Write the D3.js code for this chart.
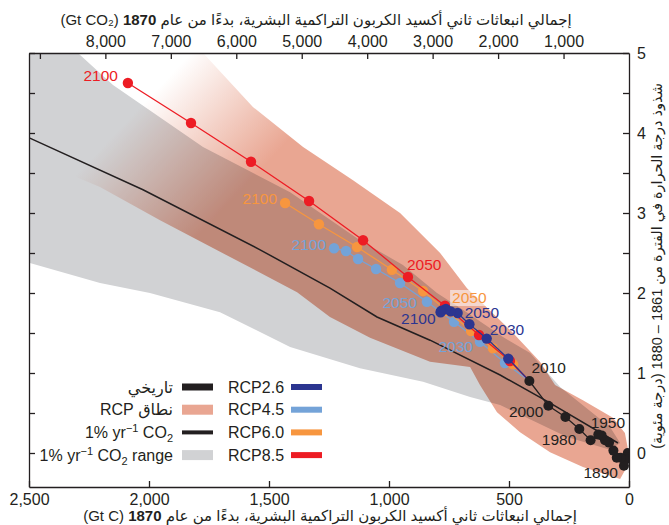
<!DOCTYPE html>
<html>
<head>
<meta charset="utf-8">
<script src="https://cdn.jsdelivr.net/npm/d3@7"></script>
<style>
body { margin: 0; background: #fff; }
svg text { font-family: "Liberation Sans", Arial, "DejaVu Sans", sans-serif; fill: #231f20; }
</style>
</head>
<body>
<svg id="chart" width="669" height="525"></svg>
<script>
// historical decades
var histYears = [1870, 1880, 1890, 1900, 1910, 1920, 1930, 1940, 1950, 1960, 1970, 1980, 1990, 2000, 2010];
var histCum = [5, 17, 21, 35, 51, 65, 83, 100, 114, 128, 160, 207, 265, 336, 415];
var histTemp = [0.0, -0.09, -0.16, -0.06, -0.06, 0.03, 0.13, 0.16, 0.22, 0.23, 0.16, 0.30, 0.45, 0.59, 0.90];

// RCP decades 2020-2100
var rcpYears = [2020, 2030, 2040, 2050, 2060, 2070, 2080, 2090, 2100];
var rcp26Cum = [503, 593, 665, 714, 743, 763, 781, 783, 785];
var rcp26Temp = [1.18, 1.43, 1.61, 1.75, 1.77, 1.80, 1.78, 1.77, 1.76];
var rcp45Cum = [517, 621, 729, 842, 954, 1054, 1129, 1179, 1229];
var rcp45Temp = [1.125, 1.39, 1.64, 1.89, 2.125, 2.30, 2.425, 2.525, 2.56];
var rcp60Cum = [483, 567, 658, 758, 858, 988, 1133, 1292, 1433];
var rcp60Temp = [1.11, 1.31, 1.525, 1.775, 2.025, 2.29, 2.575, 2.86, 3.125];
var rcp85Cum = [496, 625, 767, 921, 1108, 1333, 1575, 1825, 2088];
var rcp85Temp = [1.15, 1.475, 1.84, 2.2, 2.66, 3.15, 3.64, 4.125, 4.625];

// 1% per year CO2 line
var onePctCum = [2580, 2025, 1537, 1246, 1050, 829, 537, 337, 46];
var onePctTemp = [4.05, 3.29, 2.54, 2.06, 1.70, 1.41, 0.975, 0.64, 0.125];

// ranges (outline going along upper edge, back along lower edge)
var onePctRangeCum = [2550, 2296, 2150, 1775, 1592, 1412, 1121, 942, 800, 692, 525, 412, 287, 79, 37, 79, 258, 537, 662, 858, 1121, 1412, 1704, 1996, 2204, 2550];
var onePctRangeTemp = [5.6, 5.0, 4.6, 3.825, 3.54, 3.26, 2.66, 2.35, 2.0, 1.79, 1.45, 1.25, 0.825, 0.325, 0.125, 0.04, 0.2, 0.6, 0.7, 0.89, 1.06, 1.325, 1.76, 2.0, 2.125, 2.42];
var rcpRangeCum = [2442, 2162, 1996, 1787, 1567, 1358, 1150, 954, 787, 675, 483, 371, 308, 192, 67, 17, 4, 12, 37, 192, 329, 454, 550, 621, 662, 829, 1079, 1246, 1383, 1954, 2204];
var rcpRangeTemp = [3.625, 4.6, 5.29, 5.04, 4.325, 3.825, 3.41, 3.0, 2.5, 2.06, 1.5, 1.14, 0.85, 0.66, 0.44, 0.25, 0.04, -0.19, -0.325, -0.175, 0.01, 0.26, 0.51, 0.85, 1.075, 1.14, 1.44, 1.7, 2.01, 2.91, 3.325];

// ticks
var gtcTicks = [0, 500, 1000, 1500, 2000, 2500];
var co2Ticks = [1000, 2000, 3000, 4000, 5000, 6000, 7000, 8000, 9000];
var tempTicks = [0, 0.5, 1, 1.5, 2, 2.5, 3, 3.5, 4, 4.5, 5];

var titleTop = "إجمالي انبعاثات ثاني أكسيد الكربون التراكمية البشرية، بدءًا من عام ";
var titleRight = "شذوذ درجة الحرارة في الفترة من 1861 – 1880 (درجة مئوية)";

var svg = d3.select("#chart");
var x = d3.scaleLinear().domain([2500, 0]).range([29, 629]),
xCO2 = d3.scaleLinear().domain([2500 * 44 / 12, 0]).range([29, 629]),
y = d3.scaleLinear().domain([-0.425, 5]).range([487, 53]);

var zip = function (a, b) { return a.map(function (v, i) { return [v, b[i]]; }); };
var line = d3.line().x(function (d) { return x(d[0]); }).y(function (d) { return y(d[1]); });

var defs = svg.append("defs");
defs.append("clipPath").attr("id", "plotclip")
.append("rect").attr("x", 29).attr("y", 53).attr("width", 600).attr("height", 434);

// RCP range fades out towards the top left
var grad = defs.append("linearGradient").attr("id", "rcpfade")
.attr("gradientUnits", "userSpaceOnUse")
.attr("x1", x(1871)).attr("y1", y(4.85))
.attr("x2", x(1475)).attr("y2", y(3.73));
grad.append("stop").attr("offset", "0").attr("stop-color", "#ffffff");
grad.append("stop").attr("offset", "1").attr("stop-color", "#e9a692");

var plot = svg.append("g").attr("clip-path", "url(#plotclip)");

// bands
plot.append("path")
.attr("d", line(zip(onePctRangeCum, onePctRangeTemp)) + "Z")
.style("fill", "#d1d2d4");

plot.append("path")
.attr("d", line(zip(rcpRangeCum, rcpRangeTemp)) + "Z")
.style("fill", "url(#rcpfade)")
.style("mix-blend-mode", "multiply");

// 1% line
plot.append("path")
.attr("d", line(zip(onePctCum, onePctTemp)))
.style("fill", "none").style("stroke", "#231f20").style("stroke-width", 1.5);

// RCPs, drawn bottom to top
var start = [histCum[histCum.length - 1], histTemp[histTemp.length - 1]];
var rcps = [
  {id: "rcp45", name: "RCP4.5", color: "#74a3d8", cum: rcp45Cum, temp: rcp45Temp},
  {id: "rcp60", name: "RCP6.0", color: "#f7963f", cum: rcp60Cum, temp: rcp60Temp},
  {id: "rcp85", name: "RCP8.5", color: "#ed1c24", cum: rcp85Cum, temp: rcp85Temp},
  {id: "rcp26", name: "RCP2.6", color: "#2b3590", cum: rcp26Cum, temp: rcp26Temp}
];
rcps.forEach(function (s) {
  var pts = zip(s.cum, s.temp);
  plot.append("path")
  .attr("d", line([start].concat(pts)))
  .style("fill", "none").style("stroke", s.color).style("stroke-width", 1.3);
  plot.selectAll("circle." + s.id)
  .data(pts)
  .enter().append("circle")
  .attr("class", s.id)
  .attr("cx", function (d) { return x(d[0]); })
  .attr("cy", function (d) { return y(d[1]); })
  .attr("r", 5.2)
  .style("fill", s.color);
});

// historical
var hist = zip(histCum, histTemp);
plot.append("path")
.attr("d", line(hist))
.style("fill", "none").style("stroke", "#231f20").style("stroke-width", 1.3);
plot.selectAll("circle.hist")
.data(hist)
.enter().append("circle")
.attr("class", "hist")
.attr("cx", function (d) { return x(d[0]); })
.attr("cy", function (d) { return y(d[1]); })
.attr("r", 5)
.style("fill", "#231f20");

// year labels
var colors = {hist: "#231f20"};
rcps.forEach(function (s) { colors[s.id] = s.color; });
var series = {
  hist: {years: histYears, cum: histCum, temp: histTemp},
  rcp26: {years: rcpYears, cum: rcp26Cum, temp: rcp26Temp},
  rcp45: {years: rcpYears, cum: rcp45Cum, temp: rcp45Temp},
  rcp60: {years: rcpYears, cum: rcp60Cum, temp: rcp60Temp},
  rcp85: {years: rcpYears, cum: rcp85Cum, temp: rcp85Temp}
};
var labels = [
  {s: "rcp85", year: 2100, dx: -10, dy: -2, anchor: "end"},
  {s: "rcp85", year: 2050, dx: -1, dy: -7, anchor: "start"},
  {s: "rcp60", year: 2100, dx: -8, dy: 1, anchor: "end"},
  {s: "rcp60", year: 2050, dx: 5, dy: -8, anchor: "start", box: true},
  {s: "rcp45", year: 2100, dx: -8, dy: 2, anchor: "end"},
  {s: "rcp45", year: 2050, dx: -10, dy: 6, anchor: "end"},
  {s: "rcp45", year: 2030, dx: -7, dy: 10, anchor: "end"},
  {s: "rcp26", year: 2100, dx: -5, dy: 12, anchor: "end"},
  {s: "rcp26", year: 2050, dx: 7, dy: 5, anchor: "start"},
  {s: "rcp26", year: 2030, dx: 3, dy: -4, anchor: "start"},
  {s: "hist", year: 2010, dx: 2, dy: -8, anchor: "start"},
  {s: "hist", year: 2000, dx: -5, dy: 11, anchor: "end"},
  {s: "hist", year: 1980, dx: -3, dy: 16, anchor: "end"},
  {s: "hist", year: 1950, dx: -11, dy: -7, anchor: "start"},
  {s: "hist", year: 1890, dx: -6, dy: 12, anchor: "end"}
];
labels.forEach(function (l) {
  var d = series[l.s], i = d.years.indexOf(l.year);
  var px = x(d.cum[i]) + l.dx, py = y(d.temp[i]) + l.dy;
  if (l.box) {
    svg.append("rect")
    .attr("x", px - 2).attr("y", py - 13).attr("width", 39).attr("height", 16)
    .style("fill", "#fff").style("opacity", 0.55);
  }
  svg.append("text")
  .attr("x", px).attr("y", py)
  .attr("text-anchor", l.anchor)
  .style("font-size", "15.5px")
  .style("fill", colors[l.s])
  .text(l.year);
});

// axes, ticks point inward
var fmt = d3.format(",");
svg.append("g").attr("class", "axis").attr("transform", "translate(0,487)")
.call(d3.axisBottom(x).tickValues(gtcTicks).tickSizeInner(-6).tickSizeOuter(0).tickPadding(7).tickFormat(fmt));
svg.append("g").attr("class", "axis").attr("transform", "translate(0,53)")
.call(d3.axisTop(xCO2).tickValues(co2Ticks).tickSizeInner(-6).tickSizeOuter(0).tickPadding(6)
  .tickFormat(function (d) { return d < 9000 ? fmt(d) : ""; }));
svg.append("g").attr("class", "axis").attr("transform", "translate(629,0)")
.call(d3.axisRight(y).tickValues(tempTicks).tickSizeInner(-6).tickSizeOuter(0).tickPadding(8)
  .tickFormat(function (d) { return d % 1 === 0 ? d : ""; }));
svg.append("g").attr("class", "axis").attr("transform", "translate(29,0)")
.call(d3.axisLeft(y).tickValues(tempTicks).tickSizeInner(-6).tickSizeOuter(0).tickFormat(""));

svg.selectAll(".axis path, .axis line").style("stroke", "#231f20").style("stroke-width", 1.3);
svg.selectAll(".axis text").style("font-size", "16px").style("font-family", "\"Liberation Sans\", Arial, sans-serif").style("fill", "#231f20");

// titles
var tt = svg.append("text")
.attr("x", 316).attr("y", 25)
.attr("direction", "rtl").attr("text-anchor", "middle")
.style("font-size", "15px");
tt.append("tspan").text(titleTop);
tt.append("tspan").style("font-weight", "bold").text("1870");
tt.append("tspan").text(" (Gt CO₂)");

var tb = svg.append("text")
.attr("x", 330).attr("y", 521)
.attr("direction", "rtl").attr("text-anchor", "middle")
.style("font-size", "15px");
tb.append("tspan").text(titleTop);
tb.append("tspan").style("font-weight", "bold").text("1870");
tb.append("tspan").text(" (Gt C)");

svg.append("text")
.attr("transform", "translate(662,266) rotate(-90)")
.attr("direction", "rtl").attr("text-anchor", "middle")
.style("font-size", "14.5px")
.text(titleRight);

// legend
var rowY = function (i) { return 387 + i * 22.7; };
var leftItems = [
  {text: "تاريخي", color: "#231f20", h: 7, rtl: true},
  {text: "نطاق RCP", color: "#e9a692", h: 10, rtl: true},
  {text: "1%", color: "#231f20", h: 4},
  {text: "1%", color: "#d1d2d4", h: 10, range: true}
];
leftItems.forEach(function (it, i) {
  var cy = rowY(i);
  svg.append("rect")
  .attr("x", 182).attr("y", cy - it.h / 2).attr("width", 31).attr("height", it.h)
  .style("fill", it.color);
  var t = svg.append("text").attr("x", 173).attr("y", cy + 5.5).style("font-size", "16px");
  if (it.rtl) {
    t.attr("direction", "rtl").attr("text-anchor", "start").text(it.text);
  } else {
    t.attr("text-anchor", "end");
    t.append("tspan").text("1% yr");
    t.append("tspan").attr("dy", -6).style("font-size", "11px").text("−1");
    t.append("tspan").attr("dy", 6).text(" CO");
    t.append("tspan").attr("dy", 4).style("font-size", "11px").text("2");
    t.append("tspan").attr("dy", -4).text(it.range ? " range" : "");
  }
});

var rightItems = rcps.slice().sort(function (a, b) { return d3.ascending(a.name, b.name); });
rightItems.forEach(function (s, i) {
  var cy = rowY(i);
  svg.append("text").attr("x", 228).attr("y", cy + 5.5).style("font-size", "16px").text(s.name);
  svg.append("rect")
  .attr("x", 291).attr("y", cy - 3).attr("width", 31).attr("height", 6)
  .style("fill", s.color);
});
</script>
</body>
</html>
